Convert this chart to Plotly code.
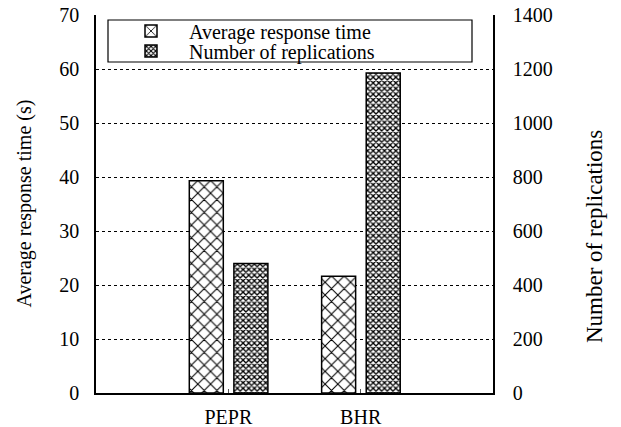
import plotly.graph_objects as go

categories = ["PEPR", "BHR"]
avg_response = [39.3, 21.6]
replications = [480, 1185]
series_names = ["Average response time", "Number of replications"]
y_left_ticks = [0, 10, 20, 30, 40, 50, 60, 70]
y_right_ticks = [0, 200, 400, 600, 800, 1000, 1200, 1400]

FONT = "Liberation Serif, serif"

W, H = 621, 427
PL, PR, PT, PB = 96, 493, 15, 393  # plot area in pixels


def px(xs):
    return (xs - PL) / (PR - PL)


def py(ys):
    return 1 - (ys - PT) / (PB - PT)


fig = go.Figure()
fig.add_trace(go.Bar(
    x=categories, y=avg_response, name=series_names[0],
    offset=-0.295, width=0.257, yaxis="y", legend="legend",
    marker=dict(color="white", line=dict(color="black", width=1.5),
                pattern=dict(shape="x", size=9, solidity=0.22,
                             fgcolor="black", bgcolor="white", fillmode="replace")),
))
fig.add_trace(go.Bar(
    x=categories, y=replications, name=series_names[1],
    offset=0.042, width=0.257, yaxis="y2", legend="legend2",
    marker=dict(color="white", line=dict(color="black", width=1.5),
                pattern=dict(shape="x", size=4, solidity=0.55,
                             fgcolor="black", bgcolor="white", fillmode="replace")),
))

legend_common = dict(xanchor="left", yanchor="middle", bgcolor="rgba(0,0,0,0)",
                     borderwidth=0, font=dict(family=FONT, size=20), itemwidth=66)

fig.update_layout(
    width=W, height=H,
    margin=dict(l=PL, r=W - PR, t=PT, b=H - PB, autoexpand=False),
    paper_bgcolor="white", plot_bgcolor="white",
    font=dict(family=FONT, size=20, color="black"),
    barmode="group",
    showlegend=True,
    legend=dict(x=px(113), y=py(31), **legend_common),
    legend2=dict(x=px(113), y=py(51), **legend_common),
    xaxis=dict(type="category", range=[-1, 2], showgrid=False, automargin=False,
               showline=True, linecolor="black", linewidth=1.5,
               ticks="inside", ticklen=4, tickcolor="#555", tickwidth=1,
               ticklabeloverflow="allow",
               tickfont=dict(family=FONT, size=20), ticklabelstandoff=5),
    yaxis=dict(range=[0, 70], tickvals=y_left_ticks, showgrid=True, automargin=False,
               gridcolor="black", griddash="dot", gridwidth=1,
               showline=True, linecolor="black", linewidth=1.5,
               ticks="", ticklabelstandoff=11, zeroline=False,
               ticklabeloverflow="allow",
               tickfont=dict(family=FONT, size=20)),
    yaxis2=dict(range=[0, 1400], tickvals=y_right_ticks, overlaying="y", automargin=False,
                side="right", showgrid=False, showline=True,
                linecolor="black", linewidth=1.5, ticks="",
                ticklabelstandoff=14, zeroline=False,
                ticklabeloverflow="allow",
                tickfont=dict(family=FONT, size=20)),
    shapes=[dict(type="rect", xref="paper", yref="paper",
                 x0=px(108), x1=px(472), y0=py(62), y1=py(20),
                 line=dict(color="black", width=1.2), fillcolor="rgba(0,0,0,0)")],
    annotations=[
        dict(text="Average response time (s)", xref="paper", yref="paper",
             x=px(23.5), y=py(204), textangle=-90, showarrow=False,
             xanchor="center", yanchor="middle", font=dict(family=FONT, size=20)),
        dict(text="Number of replications", xref="paper", yref="paper",
             x=px(594), y=py(237), textangle=-90, showarrow=False,
             xanchor="center", yanchor="middle", font=dict(family=FONT, size=23)),
    ],
)

fig.write_html("out.html", config={"displayModeBar": False},
               post_script="document.body.style.margin='0';document.body.style.overflow='hidden';")
